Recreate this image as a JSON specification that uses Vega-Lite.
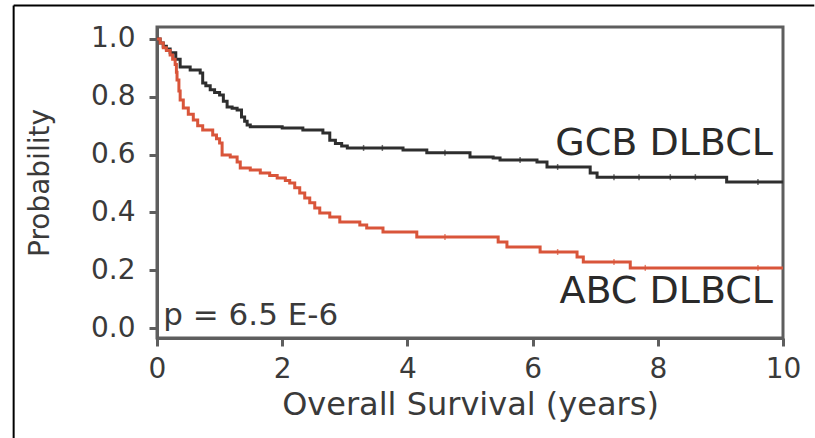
{
  "$schema": "https://vega.github.io/schema/vega-lite/v6.json",
  "autosize": {"type": "none"},
  "padding": {"left": 157, "top": 27, "right": 32, "bottom": 100},
  "width": 626,
  "height": 311,
  "background": "white",
  "config": {
    "view": {"stroke": "#5e5e5e", "strokeWidth": 3},
    "font": "DejaVu Sans"
  },
  "datasets": {
    "km": [
      {"group": "GCB", "t": 0, "p": 1.0},
      {"group": "GCB", "t": 0.05, "p": 0.986},
      {"group": "GCB", "t": 0.1, "p": 0.975},
      {"group": "GCB", "t": 0.15, "p": 0.965},
      {"group": "GCB", "t": 0.21, "p": 0.952},
      {"group": "GCB", "t": 0.3, "p": 0.93},
      {"group": "GCB", "t": 0.37, "p": 0.903},
      {"group": "GCB", "t": 0.53, "p": 0.893},
      {"group": "GCB", "t": 0.69, "p": 0.882},
      {"group": "GCB", "t": 0.73, "p": 0.848},
      {"group": "GCB", "t": 0.78, "p": 0.838},
      {"group": "GCB", "t": 0.85, "p": 0.824},
      {"group": "GCB", "t": 0.92, "p": 0.815},
      {"group": "GCB", "t": 1.0, "p": 0.806},
      {"group": "GCB", "t": 1.06, "p": 0.785},
      {"group": "GCB", "t": 1.12, "p": 0.765},
      {"group": "GCB", "t": 1.2, "p": 0.76},
      {"group": "GCB", "t": 1.28, "p": 0.754},
      {"group": "GCB", "t": 1.35, "p": 0.73},
      {"group": "GCB", "t": 1.4, "p": 0.715},
      {"group": "GCB", "t": 1.44, "p": 0.702},
      {"group": "GCB", "t": 1.49, "p": 0.696},
      {"group": "GCB", "t": 2.0, "p": 0.692},
      {"group": "GCB", "t": 2.33, "p": 0.685},
      {"group": "GCB", "t": 2.65, "p": 0.675},
      {"group": "GCB", "t": 2.76, "p": 0.65},
      {"group": "GCB", "t": 2.85, "p": 0.638},
      {"group": "GCB", "t": 2.95, "p": 0.63},
      {"group": "GCB", "t": 3.04, "p": 0.623},
      {"group": "GCB", "t": 3.93, "p": 0.616},
      {"group": "GCB", "t": 4.31, "p": 0.606},
      {"group": "GCB", "t": 5.0, "p": 0.592},
      {"group": "GCB", "t": 5.37, "p": 0.588},
      {"group": "GCB", "t": 5.48, "p": 0.581},
      {"group": "GCB", "t": 6.07, "p": 0.574},
      {"group": "GCB", "t": 6.23, "p": 0.557},
      {"group": "GCB", "t": 6.92, "p": 0.536},
      {"group": "GCB", "t": 7.03, "p": 0.522},
      {"group": "GCB", "t": 9.1, "p": 0.505},
      {"group": "GCB", "t": 10, "p": 0.505},
      {"group": "ABC", "t": 0, "p": 1.0},
      {"group": "ABC", "t": 0.05, "p": 0.986},
      {"group": "ABC", "t": 0.1, "p": 0.97},
      {"group": "ABC", "t": 0.15, "p": 0.96},
      {"group": "ABC", "t": 0.21, "p": 0.945},
      {"group": "ABC", "t": 0.25, "p": 0.93},
      {"group": "ABC", "t": 0.29, "p": 0.912},
      {"group": "ABC", "t": 0.31, "p": 0.885},
      {"group": "ABC", "t": 0.32, "p": 0.858},
      {"group": "ABC", "t": 0.35, "p": 0.82},
      {"group": "ABC", "t": 0.37, "p": 0.789},
      {"group": "ABC", "t": 0.42, "p": 0.761},
      {"group": "ABC", "t": 0.5, "p": 0.74},
      {"group": "ABC", "t": 0.58, "p": 0.72},
      {"group": "ABC", "t": 0.65, "p": 0.7},
      {"group": "ABC", "t": 0.73, "p": 0.685},
      {"group": "ABC", "t": 0.89, "p": 0.668},
      {"group": "ABC", "t": 0.95, "p": 0.655},
      {"group": "ABC", "t": 1.0, "p": 0.64},
      {"group": "ABC", "t": 1.04, "p": 0.599},
      {"group": "ABC", "t": 1.17, "p": 0.592},
      {"group": "ABC", "t": 1.28, "p": 0.574},
      {"group": "ABC", "t": 1.33, "p": 0.554},
      {"group": "ABC", "t": 1.49, "p": 0.547},
      {"group": "ABC", "t": 1.65, "p": 0.536},
      {"group": "ABC", "t": 1.8, "p": 0.528},
      {"group": "ABC", "t": 1.92, "p": 0.519},
      {"group": "ABC", "t": 2.05, "p": 0.51},
      {"group": "ABC", "t": 2.12, "p": 0.502},
      {"group": "ABC", "t": 2.2, "p": 0.485},
      {"group": "ABC", "t": 2.28, "p": 0.467},
      {"group": "ABC", "t": 2.36, "p": 0.45},
      {"group": "ABC", "t": 2.44, "p": 0.433},
      {"group": "ABC", "t": 2.52, "p": 0.415},
      {"group": "ABC", "t": 2.6, "p": 0.398},
      {"group": "ABC", "t": 2.76, "p": 0.384},
      {"group": "ABC", "t": 2.92, "p": 0.367},
      {"group": "ABC", "t": 3.24, "p": 0.356},
      {"group": "ABC", "t": 3.35, "p": 0.346},
      {"group": "ABC", "t": 3.61, "p": 0.332},
      {"group": "ABC", "t": 4.15, "p": 0.315},
      {"group": "ABC", "t": 5.45, "p": 0.298},
      {"group": "ABC", "t": 5.59, "p": 0.28},
      {"group": "ABC", "t": 6.12, "p": 0.263},
      {"group": "ABC", "t": 6.71, "p": 0.246},
      {"group": "ABC", "t": 6.81, "p": 0.228},
      {"group": "ABC", "t": 7.56, "p": 0.208},
      {"group": "ABC", "t": 10, "p": 0.208}
    ],
    "censor": [
      {"group": "GCB", "t": 3.3, "p": 0.623},
      {"group": "GCB", "t": 3.6, "p": 0.623},
      {"group": "GCB", "t": 4.6, "p": 0.606},
      {"group": "GCB", "t": 5.8, "p": 0.581},
      {"group": "GCB", "t": 6.4, "p": 0.557},
      {"group": "GCB", "t": 7.3, "p": 0.522},
      {"group": "GCB", "t": 7.7, "p": 0.522},
      {"group": "GCB", "t": 8.2, "p": 0.522},
      {"group": "GCB", "t": 8.6, "p": 0.522},
      {"group": "GCB", "t": 9.6, "p": 0.505},
      {"group": "ABC", "t": 4.6, "p": 0.315},
      {"group": "ABC", "t": 6.4, "p": 0.263},
      {"group": "ABC", "t": 7.3, "p": 0.228},
      {"group": "ABC", "t": 7.8, "p": 0.208},
      {"group": "ABC", "t": 9.6, "p": 0.208}
    ]
  },
  "layer": [
    {
      "data": {"name": "km"},
      "mark": {"type": "line", "interpolate": "step-after", "strokeWidth": 3},
      "encoding": {
        "x": {
          "field": "t", "type": "quantitative",
          "scale": {"domain": [0, 10], "nice": false, "zero": false},
          "axis": {
            "values": [0, 2, 4, 6, 8, 10],
            "format": "d",
            "title": "Overall Survival (years)",
            "grid": false,
            "domainColor": "#5e5e5e", "domainWidth": 3,
            "tickColor": "#5e5e5e", "tickWidth": 3, "tickSize": 8,
            "labelFontSize": 28, "labelColor": "#3a3a3a", "labelPadding": 9,
            "labelFlush": false,
            "titleFontSize": 32, "titleFontWeight": "normal", "titleColor": "#3a3a3a",
            "titlePadding": 6
          }
        },
        "y": {
          "field": "p", "type": "quantitative",
          "scale": {"domain": [-0.0346, 1.0415], "nice": false, "zero": false},
          "axis": {
            "values": [0, 0.2, 0.4, 0.6, 0.8, 1.0],
            "format": ".1f",
            "title": "Probability",
            "grid": false,
            "domainColor": "#5e5e5e", "domainWidth": 3,
            "tickColor": "#5e5e5e", "tickWidth": 3, "tickSize": 8,
            "labelFontSize": 28, "labelColor": "#3a3a3a", "labelPadding": 14,
            "labelFlush": false,
            "titleFontSize": 28, "titleFontWeight": "normal", "titleColor": "#3a3a3a",
            "titlePadding": 36
          }
        },
        "color": {
          "field": "group", "type": "nominal",
          "scale": {"domain": ["GCB", "ABC"], "range": ["#2e2e2e", "#d9553a"]},
          "legend": null
        },
        "detail": {"field": "group"}
      }
    },
    {
      "data": {"name": "censor"},
      "mark": {"type": "tick", "orient": "vertical", "size": 6, "thickness": 1.5},
      "encoding": {
        "x": {"field": "t", "type": "quantitative"},
        "y": {"field": "p", "type": "quantitative"},
        "color": {"field": "group", "type": "nominal", "legend": null}
      }
    },
    {
      "data": {"values": [{}]},
      "mark": {"type": "text", "align": "right", "baseline": "alphabetic", "fontSize": 38, "color": "#2a2a2a"},
      "encoding": {"x": {"datum": 9.84}, "y": {"datum": 0.599}, "text": {"value": "GCB DLBCL"}}
    },
    {
      "data": {"values": [{}]},
      "mark": {"type": "text", "align": "right", "baseline": "alphabetic", "fontSize": 38, "color": "#2a2a2a"},
      "encoding": {"x": {"datum": 9.84}, "y": {"datum": 0.0865}, "text": {"value": "ABC DLBCL"}}
    },
    {
      "data": {"values": [{}]},
      "mark": {"type": "text", "align": "left", "baseline": "alphabetic", "fontSize": 31, "color": "#3a3a3a"},
      "encoding": {"x": {"datum": 0.1}, "y": {"datum": 0.01}, "text": {"value": "p = 6.5 E-6"}}
    },
    {
      "data": {"values": [{}]},
      "mark": {"type": "rule", "color": "black", "strokeWidth": 2, "clip": false},
      "encoding": {"x": {"datum": -2.29}, "x2": {"datum": 10.5}, "y": {"datum": 1.116}}
    },
    {
      "data": {"values": [{}]},
      "mark": {"type": "rule", "color": "black", "strokeWidth": 2, "clip": false},
      "encoding": {"x": {"datum": -2.29}, "y": {"datum": 1.116}, "y2": {"datum": -0.4}}
    }
  ]
}
